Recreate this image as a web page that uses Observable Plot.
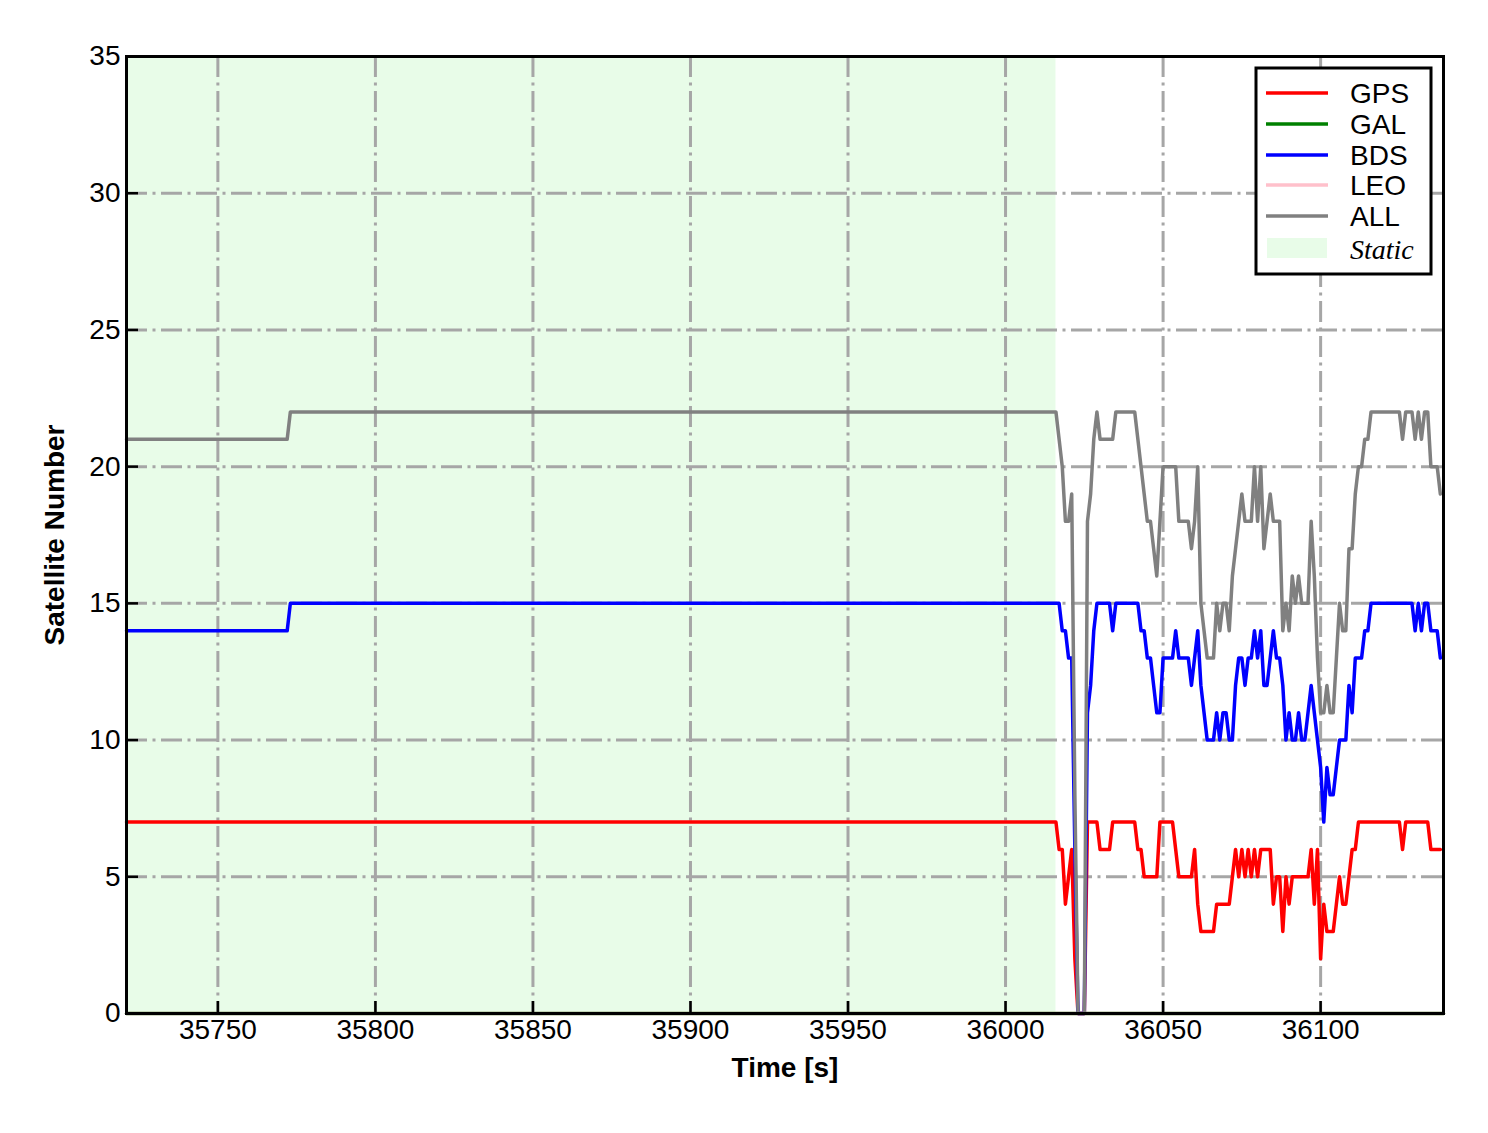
<!DOCTYPE html>
<html>
<head>
<meta charset="utf-8">
<script src="https://cdn.jsdelivr.net/npm/d3@7"></script>
<script src="https://cdn.jsdelivr.net/npm/@observablehq/plot@0.6"></script>
<style>
  body { margin: 0; background: #ffffff; }
  #chart { width: 1488px; height: 1133px; }
</style>
</head>
<body>
<div id="chart"></div>
<script>
// ---------------- data ----------------
const seriesNames = ["GPS", "GAL", "BDS", "LEO", "ALL"];
const seriesColors = ["#ff0000", "#008000", "#0000ff", "#ffc0cb", "#808080"];

// static period (values constant apart from one step)
const staticTime = [35721, 35772, 35773, 36015];
const staticGPS = [7, 7, 7, 7];
const staticBDS = [14, 14, 15, 15];
const staticALL = [21, 21, 22, 22];

// GAL and LEO: no satellites (lines lie on the x axis)
const zeroTime = [35721, 36139];
const galValues = [0, 0];
const leoValues = [0, 0];

// dynamic period, 1 s sampling
const dynTime = [
  36016,36017,36018,36019,36020,36021,36022,36023,36024,36025,
  36026,36027,36028,36029,36030,36031,36032,36033,36034,36035,
  36036,36037,36038,36039,36040,36041,36042,36043,36044,36045,
  36046,36047,36048,36049,36050,36051,36052,36053,36054,36055,
  36056,36057,36058,36059,36060,36061,36062,36063,36064,36065,
  36066,36067,36068,36069,36070,36071,36072,36073,36074,36075,
  36076,36077,36078,36079,36080,36081,36082,36083,36084,36085,
  36086,36087,36088,36089,36090,36091,36092,36093,36094,36095,
  36096,36097,36098,36099,36100,36101,36102,36103,36104,36105,
  36106,36107,36108,36109,36110,36111,36112,36113,36114,36115,
  36116,36117,36118,36119,36120,36121,36122,36123,36124,36125,
  36126,36127,36128,36129,36130,36131,36132,36133,36134,36135,
  36136,36137,36138
];
const dynGPS = [
  7,6,6,4,5,6,2,0,0,0,
  7,7,7,7,6,6,6,6,7,7,
  7,7,7,7,7,7,6,6,5,5,
  5,5,5,7,7,7,7,7,6,5,
  5,5,5,5,6,4,3,3,3,3,
  3,4,4,4,4,4,5,6,5,6,
  5,6,5,6,5,6,6,6,6,4,
  5,5,3,5,4,5,5,5,5,5,
  5,6,4,6,2,4,3,3,3,4,
  5,4,4,5,6,6,7,7,7,7,
  7,7,7,7,7,7,7,7,7,7,
  6,7,7,7,7,7,7,7,7,6,
  6,6,6
];
const dynBDS = [
  15,15,14,14,13,13,6,0,0,0,
  11,12,14,15,15,15,15,15,14,15,
  15,15,15,15,15,15,15,14,14,13,
  13,12,11,11,13,13,13,13,14,13,
  13,13,13,12,13,14,12,11,10,10,
  10,11,10,11,11,10,10,12,13,13,
  12,13,13,14,13,14,12,12,13,14,
  13,13,12,10,11,10,10,11,10,10,
  11,12,11,10,9,7,9,8,8,9,
  10,10,10,12,11,13,13,13,14,14,
  15,15,15,15,15,15,15,15,15,15,
  15,15,15,15,14,15,14,15,15,14,
  14,14,13
];
const dynALL = [
  22,21,20,18,18,19,8,0,0,0,
  18,19,21,22,21,21,21,21,21,22,
  22,22,22,22,22,22,21,20,19,18,
  18,17,16,18,20,20,20,20,20,18,
  18,18,18,17,18,20,15,14,13,13,
  13,15,14,15,15,14,16,17,18,19,
  18,18,18,20,18,20,17,18,19,18,
  18,18,14,15,14,16,15,16,15,15,
  15,18,16,13,11,11,12,11,11,13,
  15,14,14,17,17,19,20,20,21,21,
  22,22,22,22,22,22,22,22,22,22,
  21,22,22,22,21,22,21,22,22,20,
  20,20,19
];

const staticPeriod = [[35721, 36016]];
const xTicks = [35750, 35800, 35850, 35900, 35950, 36000, 36050, 36100];
const yTicks = [0, 5, 10, 15, 20, 25, 30, 35];

// ---------------- build table ----------------
function rowsOf(name, times, values) {
  return times.map((t, i) => ({ series: name, t, v: values[i] }));
}
const rows = [
  ...rowsOf("GAL", zeroTime, galValues),
  ...rowsOf("LEO", zeroTime, leoValues),
  ...rowsOf("GPS", staticTime.concat(dynTime), staticGPS.concat(dynGPS)),
  ...rowsOf("BDS", staticTime.concat(dynTime), staticBDS.concat(dynBDS)),
  ...rowsOf("ALL", staticTime.concat(dynTime), staticALL.concat(dynALL))
];
const drawOrder = ["GAL", "LEO", "GPS", "BDS", "ALL"];

const FONT = "'Liberation Sans', Arial, Helvetica, sans-serif";
const gridStyle = { stroke: "#a6a6a6", strokeWidth: 3, strokeDasharray: "21,5.5,3,5.5" };

const marks = [
  Plot.rect(staticPeriod, { x1: d => d[0], x2: d => d[1], fill: "#e8fce8" }),
  Plot.ruleX(xTicks, { x: d => d, ...gridStyle }),
  Plot.ruleY(yTicks.filter(d => d > 0 && d < 35), { y: d => d, ...gridStyle })
];
for (const name of drawOrder) {
  marks.push(Plot.line(rows.filter(r => r.series === name), {
    x: "t", y: "v",
    stroke: seriesColors[seriesNames.indexOf(name)],
    strokeWidth: 3.5, strokeLinejoin: "round"
  }));
}
marks.push(
  // inward ticks
  Plot.ruleX(xTicks, { x: d => d, insetTop: 945, stroke: "black", strokeWidth: 2.5 }),
  Plot.ruleY(yTicks, { y: d => d, insetRight: 1305, stroke: "black", strokeWidth: 2.5 }),
  Plot.axisX(xTicks, { tickSize: 0, tickPadding: 6, tickFormat: d => String(d), fontSize: 28 }),
  Plot.axisY(yTicks, { tickSize: 0, tickPadding: 6, tickFormat: d => String(d), fontSize: 28 }),
  Plot.text(["Time [s]"], { frameAnchor: "bottom", dy: 63, textAnchor: "middle", fontWeight: "bold", fontSize: 28 }),
  Plot.text(["Satellite Number"], { frameAnchor: "left", dx: -71, rotate: -90, textAnchor: "middle", fontWeight: "bold", fontSize: 28 }),
  Plot.frame({ stroke: "black", strokeWidth: 3 })
);

const svg = Plot.plot({
  width: 1488,
  height: 1133,
  marginLeft: 126,
  marginRight: 45,
  marginTop: 56,
  marginBottom: 120,
  style: { fontFamily: FONT, fontSize: "28px", color: "black", background: "white" },
  x: { domain: [35721, 36139], label: null },
  y: { domain: [0, 35], label: null },
  marks
});
document.getElementById("chart").appendChild(svg);

// ---------------- legend ----------------
const lg = d3.select(svg).append("g").attr("class", "legend").attr("text-anchor", "start");
lg.append("rect")
  .attr("x", 1256).attr("y", 68).attr("width", 175).attr("height", 206)
  .attr("fill", "white").attr("stroke", "black").attr("stroke-width", 3);
const legendY = [93, 124, 155, 185, 216];
seriesNames.forEach((name, i) => {
  lg.append("line")
    .attr("x1", 1266).attr("x2", 1328)
    .attr("y1", legendY[i]).attr("y2", legendY[i])
    .attr("stroke", seriesColors[i]).attr("stroke-width", 3.5);
  lg.append("text")
    .attr("x", 1350).attr("y", legendY[i])
    .attr("text-anchor", "start")
    .attr("dominant-baseline", "central")
    .attr("font-family", FONT).attr("font-size", 28)
    .attr("fill", "black")
    .text(name);
});
lg.append("rect")
  .attr("x", 1267).attr("y", 238).attr("width", 60).attr("height", 20)
  .attr("fill", "#e8fce8");
lg.append("text")
  .attr("x", 1350).attr("y", 249)
  .attr("text-anchor", "start")
  .attr("dominant-baseline", "central")
  .attr("font-family", "'Liberation Serif', 'Times New Roman', serif")
  .attr("font-style", "italic").attr("font-size", 28)
  .attr("fill", "black")
  .text("Static");
</script>
</body>
</html>
